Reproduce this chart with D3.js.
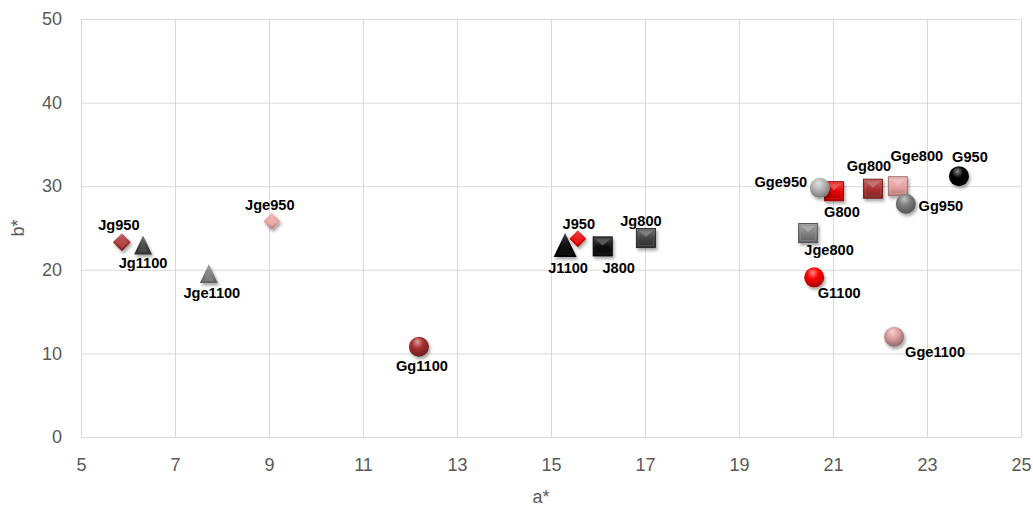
<!DOCTYPE html>
<html>
<head>
<meta charset="utf-8">
<script src="https://cdn.jsdelivr.net/npm/d3@7"></script>
<style>
  html, body { margin: 0; padding: 0; background: #ffffff; }
  svg { display: block; }
</style>
</head>
<body>
<svg id="chart" width="1033" height="508"></svg>
<script>
// ---- data ----
const sampleNames = ["Jg950", "Jg1100", "Jge1100", "Jge950", "Gg1100", "J1100", "J950", "J800", "Jg800",
                     "Gge950", "G800", "Gg800", "Gge800", "Gg950", "G950", "Jge800", "G1100", "Gge1100"];
const aValues = [5.87, 6.32, 7.72, 9.06, 12.19, 15.30, 15.57, 16.10, 17.02,
                 20.72, 21.02, 21.85, 22.38, 22.55, 23.68, 20.47, 20.60, 22.30];
const bValues = [23.3, 22.9, 19.5, 25.8, 10.8, 22.9, 23.7, 22.8, 23.8,
                 29.8, 29.4, 29.7, 30.0, 27.9, 31.2, 24.4, 19.1, 12.0];
const xTicks = [5, 7, 9, 11, 13, 15, 17, 19, 21, 23, 25];
const yTicks = [0, 10, 20, 30, 40, 50];
const xTitle = "a*";
const yTitle = "b*";

// ---- marker appearance per sample ----
const markerStyle = {
  Jg950:   { shape: "diamond",  color: "#a83030", size: 18 },
  Jge950:  { shape: "diamond",  color: "#e8a0a0", size: 17 },
  J950:    { shape: "diamond",  color: "#e60000", size: 17 },
  Jg1100:  { shape: "triangle", color: "#404040", size: 18 },
  Jge1100: { shape: "triangle", color: "#7f7f7f", size: 18 },
  J1100:   { shape: "triangle", color: "#000000", size: 23 },
  J800:    { shape: "square",   color: "#0a0a0a", size: 19 },
  Jg800:   { shape: "square",   color: "#404040", size: 19 },
  Jge800:  { shape: "square",   color: "#7f7f7f", size: 19 },
  G800:    { shape: "square",   color: "#e60000", size: 19 },
  Gg800:   { shape: "square",   color: "#a83030", size: 19 },
  Gge800:  { shape: "square",   color: "#e8a0a0", size: 19 },
  G950:    { shape: "sphere",   color: "#000000", size: 20 },
  Gg950:   { shape: "sphere",   color: "#7f7f7f", size: 20 },
  Gge950:  { shape: "sphere",   color: "#b8b8b8", size: 20 },
  G1100:   { shape: "sphere",   color: "#ff0000", size: 20 },
  Gg1100:  { shape: "sphere",   color: "#a83030", size: 20 },
  Gge1100: { shape: "sphere",   color: "#e0a0a0", size: 20 }
};
// stacking: spheres sit in front of the other markers
const shapeLayer = { square: 0, triangle: 1, diamond: 2, sphere: 3 };

// label offsets from the marker centre (px)
const labelOffset = {
  Jg950: [-3, -17], Jg1100: [0, 17], Jge1100: [3, 19], Jge950: [-2, -16],
  Gg1100: [3, 19], J1100: [3, 22], J950: [1, -15], J800: [16, 22], Jg800: [-5, -17],
  Gge950: [-39, -6], G800: [8, 21], Gg800: [-4, -23], Gge800: [19, -30], Gg950: [35, 2],
  G950: [11, -19], Jge800: [21, 17], G1100: [25, 16], Gge1100: [41, 15]
};

// ---- layout ----
const svg = d3.select("#chart");
const x = d3.scaleLinear().domain([5, 25]).range([81, 1021]);
const y = d3.scaleLinear().domain([0, 50]).range([437, 19]);

const defs = svg.append("defs");
const shadow = defs.append("filter").attr("id", "shadow")
  .attr("x", "-50%").attr("y", "-50%").attr("width", "200%").attr("height", "200%");
shadow.append("feDropShadow").attr("dx", 1.5).attr("dy", 2.5).attr("stdDeviation", 1.8)
  .attr("flood-color", "#000").attr("flood-opacity", 0.35);

function lighten(c, k) { return d3.interpolateRgb(c, "#ffffff")(k); }
function darken(c, k) { return d3.interpolateRgb(c, "#000000")(k); }

// gridlines
svg.append("g").selectAll("line.v").data(xTicks).join("line")
  .attr("x1", d => x(d) + 0.5).attr("x2", d => x(d) + 0.5)
  .attr("y1", y(50)).attr("y2", y(0))
  .attr("stroke", "#d9d9d9").attr("stroke-width", 1);
svg.append("g").selectAll("line.h").data(yTicks).join("line")
  .attr("x1", x(5)).attr("x2", x(25) + 1)
  .attr("y1", d => y(d) + 0.5).attr("y2", d => y(d) + 0.5)
  .attr("stroke", "#d9d9d9").attr("stroke-width", 1);

// axes (labels only; lines come from the grid)
const xAxis = svg.append("g").attr("transform", `translate(0,${y(0)})`)
  .call(d3.axisBottom(x).tickValues(xTicks).tickSize(0).tickPadding(21).tickFormat(d3.format("d")));
const yAxis = svg.append("g").attr("transform", `translate(${x(5)},0)`)
  .call(d3.axisLeft(y).tickValues(yTicks).tickSize(0).tickPadding(19).tickFormat(d3.format("d")));
[xAxis, yAxis].forEach(g => {
  g.select(".domain").remove();
  g.selectAll("text").attr("fill", "#595959")
    .style("font-family", "'Liberation Sans', Arial, sans-serif").style("font-size", "18px");
});

svg.append("text").attr("x", 541).attr("y", 503).attr("text-anchor", "middle")
  .attr("fill", "#595959").style("font-family", "'Liberation Sans', Arial, sans-serif")
  .style("font-size", "18px").text(xTitle);
svg.append("text").attr("transform", "translate(24,228) rotate(-90)").attr("text-anchor", "middle")
  .attr("fill", "#595959").style("font-family", "'Liberation Sans', Arial, sans-serif")
  .style("font-size", "18px").text(yTitle);

// ---- points ----
const points = sampleNames.map((n, i) => ({ name: n, a: aValues[i], b: bValues[i], st: markerStyle[n], i }));
const drawOrder = points.slice().sort((p, q) => shapeLayer[p.st.shape] - shapeLayer[q.st.shape] || p.i - q.i);

points.forEach(p => {
  const c = p.st.color;
  const id = "g" + p.i;
  if (p.st.shape === "sphere") {
    const g = defs.append("radialGradient").attr("id", id)
      .attr("cx", "45%").attr("cy", "35%").attr("r", "65%").attr("fx", "42%").attr("fy", "25%");
    g.append("stop").attr("offset", "0%").attr("stop-color", lighten(c, 0.55));
    g.append("stop").attr("offset", "45%").attr("stop-color", c);
    g.append("stop").attr("offset", "100%").attr("stop-color", darken(c, 0.35));
  } else {
    const g = defs.append("linearGradient").attr("id", id).attr("x1", 0).attr("y1", 0).attr("x2", 0).attr("y2", 1);
    g.append("stop").attr("offset", "0%").attr("stop-color", lighten(c, 0.3));
    g.append("stop").attr("offset", "55%").attr("stop-color", c);
    g.append("stop").attr("offset", "100%").attr("stop-color", darken(c, 0.25));
  }
});

const marks = svg.append("g").selectAll("g.pt").data(drawOrder).join("g")
  .attr("class", "pt")
  .attr("transform", d => `translate(${x(d.a)},${y(d.b)})`)
  .attr("filter", "url(#shadow)");

marks.each(function (d) {
  const g = d3.select(this);
  const s = d.st.size, h = s / 2, c = d.st.color;
  const fill = `url(#g${d.i})`;
  if (d.st.shape === "sphere") {
    g.append("circle").attr("r", h).attr("fill", fill);
  } else if (d.st.shape === "square") {
    g.append("rect").attr("x", -h).attr("y", -h).attr("width", s).attr("height", s)
      .attr("fill", fill).attr("stroke", darken(c, 0.3)).attr("stroke-width", 1);
    // beveled top face
    g.append("path").attr("d", `M${-h + 2},${-h + 2}L${h - 2},${-h + 2}L0,${-1}Z`)
      .attr("fill", lighten(c, 0.35)).attr("opacity", 0.85);
    g.append("rect").attr("x", -h + 2).attr("y", -h + 2).attr("width", s - 4).attr("height", s - 4)
      .attr("fill", "none").attr("stroke", lighten(c, 0.15)).attr("stroke-width", 0.8).attr("opacity", 0.6);
  } else if (d.st.shape === "triangle") {
    const th = s * 1.0;
    g.append("path").attr("d", `M0,${-th / 2 - 1}L${h},${th / 2}L${-h},${th / 2}Z`)
      .attr("fill", fill);
    g.append("path").attr("d", `M0,${-th / 2 + 3}L${h - 4},${th / 2 - 2}L${-h + 4},${th / 2 - 2}Z`)
      .attr("fill", lighten(c, 0.12)).attr("opacity", 0.5);
  } else if (d.st.shape === "diamond") {
    g.append("path").attr("d", `M0,${-h}L${h},0L0,${h}L${-h},0Z`).attr("fill", fill);
    g.append("path").attr("d", `M0,${-h + 3}L${h - 3},0L0,${h - 3}L${-h + 3},0Z`)
      .attr("fill", lighten(c, 0.2)).attr("opacity", 0.6);
  }
});

// ---- data labels ----
svg.append("g").selectAll("text").data(points).join("text")
  .attr("x", d => x(d.a) + labelOffset[d.name][0])
  .attr("y", d => y(d.b) + labelOffset[d.name][1])
  .attr("text-anchor", "middle").attr("dominant-baseline", "central")
  .attr("fill", "#000")
  .style("font-family", "'Liberation Sans', Arial, sans-serif")
  .style("font-weight", "bold").style("font-size", "14.6px")
  .text(d => d.name);
</script>
</body>
</html>
